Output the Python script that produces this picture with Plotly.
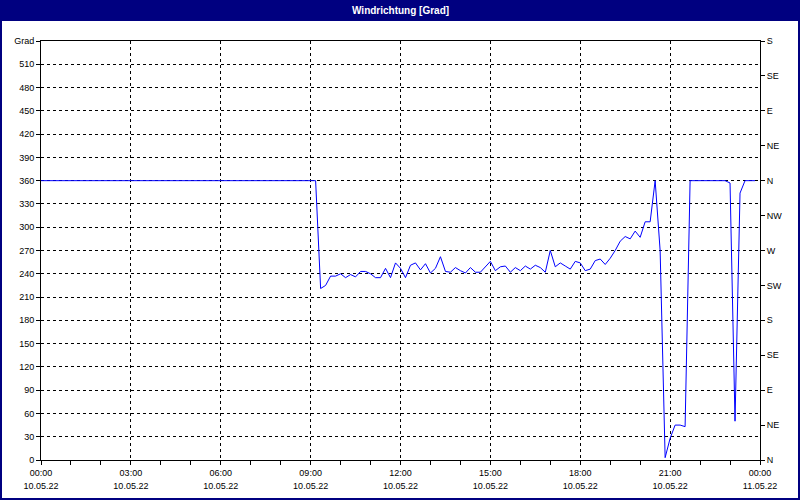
import pandas as pd
import plotly.graph_objects as go

# 10-minute readings of wind direction [deg], 10.05.22 00:00 .. 23:50
VALUES_00_08 = [360] * 54  # 00:00 .. 08:50 constant north
VALUES_09 = [360, 360, 221, 225, 237, 237]
VALUES_10 = [240, 235, 239, 236, 243, 243]
VALUES_11 = [240, 235, 235, 247, 235, 254]
VALUES_12 = [247, 235, 251, 254, 245, 253]
VALUES_13 = [241, 247, 262, 243, 242, 248]
VALUES_14 = [244, 241, 248, 242, 242, 249]
VALUES_15 = [256, 244, 249, 250, 242, 248]
VALUES_16 = [244, 250, 246, 251, 248, 242]
VALUES_17 = [270, 249, 254, 250, 246, 256]
VALUES_18 = [254, 244, 246, 257, 259, 252]
VALUES_19 = [260, 270, 282, 288, 285, 295]
VALUES_20 = [287, 307, 307, 360, 270, 3]
VALUES_21 = [28, 45, 45, 43, 360, 360]
VALUES_22 = [360, 360, 360, 360, 360, 360]
VALUES_23 = [357, 50, 344, 360, 360, 360]

values = (VALUES_00_08 + VALUES_09 + VALUES_10 + VALUES_11 + VALUES_12 + VALUES_13
          + VALUES_14 + VALUES_15 + VALUES_16 + VALUES_17 + VALUES_18 + VALUES_19
          + VALUES_20 + VALUES_21 + VALUES_22 + VALUES_23)
times = pd.date_range("2022-05-10 00:00", periods=len(values), freq="10min")

X_RANGE = ["2022-05-10 00:00", "2022-05-11 00:00"]
X_TICK_TIMES = ["2022-05-10 00:00", "2022-05-10 03:00", "2022-05-10 06:00", "2022-05-10 09:00",
                "2022-05-10 12:00", "2022-05-10 15:00", "2022-05-10 18:00", "2022-05-10 21:00",
                "2022-05-11 00:00"]
X_TICK_HOURS = ["00:00", "03:00", "06:00", "09:00", "12:00", "15:00", "18:00", "21:00", "00:00"]
X_TICK_DATES = ["10.05.22"] * 8 + ["11.05.22"]

Y_TICKS = [0, 30, 60, 90, 120, 150, 180, 210, 240, 270, 300, 330, 360, 390, 420, 450, 480, 510, 540]
Y_TICK_TEXT = [str(v) for v in Y_TICKS[:-1]] + ["Grad"]

COMPASS_TICKS = [0, 45, 90, 135, 180, 225, 270, 315, 360, 405, 450, 495, 540]
COMPASS_TEXT = ["N", "NE", "E", "SE", "S", "SW", "W", "NW", "N", "NE", "E", "SE", "S"]

TITLE = "Windrichtung [Grad]"
NAVY = "#000080"
FONT = "Liberation Sans"

W, H = 800, 500
ML, MR, MT, MB = 41, 40, 41, 40
PW, PH = W - ML - MR, H - MT - MB

fig = go.Figure()
fig.add_trace(go.Scatter(x=times, y=values, mode="lines",
                         line=dict(color="#0000FF", width=1),
                         showlegend=False, hoverinfo="x+y"))
# invisible helper trace so the secondary axes (compass / date row) are drawn
fig.add_trace(go.Scatter(x=[times[0]], y=[0], mode="markers", xaxis="x2", yaxis="y2",
                         marker=dict(opacity=0), showlegend=False, hoverinfo="skip"))

grid = dict(showgrid=True, gridcolor="black", gridwidth=1, griddash="3px,3px")

fig.update_layout(
    width=W, height=H,
    margin=dict(l=ML, r=MR, t=MT, b=MB, autoexpand=False),
    paper_bgcolor="white", plot_bgcolor="white",
    font=dict(family=FONT, size=9, color="black"),
    xaxis=dict(
        type="date", range=X_RANGE,
        tickmode="array", tickvals=X_TICK_TIMES, ticktext=X_TICK_HOURS,
        ticks="outside", ticklen=4, tickcolor="black",
        minor=dict(tickmode="linear", tick0="2022-05-10 00:00", dtick=3600000,
                   ticks="outside", ticklen=4, tickcolor="black", showgrid=False),
        showline=True, linecolor="black", linewidth=1, mirror=True,
        zeroline=False, **grid,
    ),
    xaxis2=dict(
        type="date", range=X_RANGE, overlaying="x", side="bottom", anchor="y2",
        tickmode="array", tickvals=X_TICK_TIMES, ticktext=X_TICK_DATES,
        ticks="", ticklabelstandoff=19,
        showline=False, showgrid=False, zeroline=False,
    ),
    yaxis=dict(
        range=[0, 540],
        tickmode="array", tickvals=Y_TICKS, ticktext=Y_TICK_TEXT,
        ticks="outside", ticklen=4, tickcolor="black",
        showline=True, linecolor="black", linewidth=1, mirror=True,
        zeroline=False, **grid,
    ),
    yaxis2=dict(
        range=[0, 540], overlaying="y", side="right", anchor="x2",
        tickmode="array", tickvals=COMPASS_TICKS, ticktext=COMPASS_TEXT,
        ticks="outside", ticklen=4, tickcolor="black",
        showline=False, showgrid=False, zeroline=False,
    ),
    shapes=[
        dict(type="rect", xref="paper", yref="paper",
             x0=-ML / PW, x1=1 + MR / PW, y0=1 + 20 / PH, y1=1 + MT / PH,
             fillcolor=NAVY, line=dict(width=0), layer="above"),
        dict(type="rect", xref="paper", yref="paper",
             x0=-(ML - 1) / PW, x1=1 + (MR - 1) / PW, y0=-(MB - 1) / PH, y1=1 + MT / PH,
             fillcolor="rgba(0,0,0,0)", line=dict(color=NAVY, width=2), layer="above"),
    ],
    annotations=[
        dict(text=f"<b>{TITLE}</b>", xref="paper", yref="paper", x=0.5,
             y=1 + 30.5 / PH, showarrow=False, xanchor="center", yanchor="middle",
             font=dict(family=FONT, size=10, color="white")),
    ],
)

fig.write_html("out.html", config={"displayModeBar": False},
               post_script="document.body.style.margin='0';")
